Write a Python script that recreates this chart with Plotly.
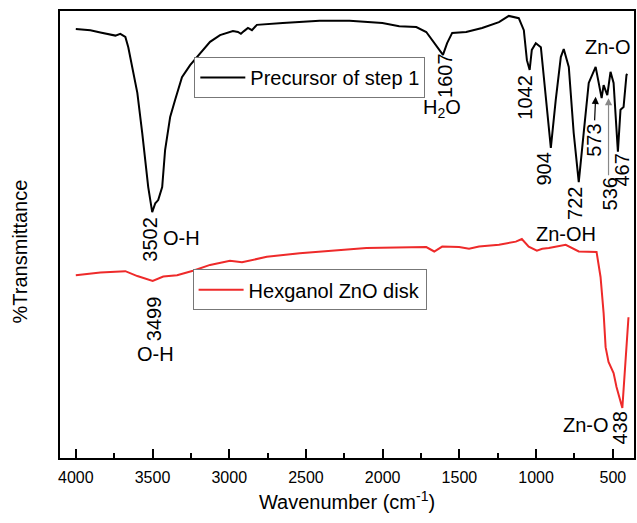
import plotly.graph_objects as go

# Precursor of step 1 (black)
wn_pre = [4000, 3905, 3840, 3742, 3710, 3677, 3658, 3632, 3599, 3567, 3547, 3528, 3502,
          3482, 3463, 3437, 3418, 3385, 3353, 3308, 3255, 3190, 3125, 3060, 2976, 2943,
          2924, 2904, 2878, 2852, 2820, 2651, 2411, 2216, 2002, 1892, 1781, 1716, 1677,
          1607, 1580, 1547, 1456, 1352, 1242, 1178, 1113, 1080, 1060, 1042, 1028, 1002,
          969, 937, 904, 872, 839, 820, 787, 755, 722, 690, 657, 612, 573, 560, 536, 515,
          495, 467, 450, 430, 411, 405]
t_pre = [96.0, 95.7, 95.2, 94.5, 94.9, 94.2, 91.9, 87.5, 81.7, 72.7, 66.7, 60.6, 55.0,
         57.0, 57.7, 60.6, 68.9, 76.3, 80.1, 85.2, 87.9, 90.6, 93.1, 94.6, 95.5, 95.3,
         94.9, 95.5, 96.2, 95.7, 96.9, 97.3, 97.8, 97.8, 97.3, 96.6, 96.4, 95.3, 93.5,
         90.2, 92.8, 95.1, 95.3, 96.2, 97.5, 98.9, 98.4, 95.7, 89.0, 86.8, 91.3, 92.8,
         91.9, 80.1, 69.4, 80.1, 89.7, 91.5, 87.5, 72.7, 61.7, 72.7, 83.9, 87.5, 80.5,
         83.4, 81.2, 86.4, 83.9, 68.5, 77.9, 78.5, 85.7, 85.9]

# Hexganol ZnO disk (red)
wn_hex = [4000, 3840, 3677, 3599, 3499, 3430, 3340, 3236, 3125, 2995, 2917, 2846, 2755,
          2541, 2411, 2106, 1716, 1664, 1612, 1502, 1437, 1372, 1242, 1132, 1093, 1048,
          995, 960, 917, 807, 722, 644, 606, 580, 560, 547, 528, 495, 476, 438, 418, 398]
t_hex = [40.9, 41.5, 41.8, 40.7, 39.6, 40.6, 40.9, 41.9, 43.2, 44.1, 43.8, 44.3, 45.0,
         45.8, 46.2, 47.0, 47.2, 46.2, 47.3, 47.2, 46.8, 47.3, 47.7, 48.4, 49.0, 47.3,
         46.4, 46.8, 47.0, 47.7, 46.2, 46.2, 46.1, 40.5, 32.4, 24.8, 21.5, 19.0, 15.9,
         11.2, 20.4, 31.5]

x_ticks = [4000, 3500, 3000, 2500, 2000, 1500, 1000, 500]
x_minor = [3750, 3250, 2750, 2250, 1750, 1250, 750]

# peak labels: (text, wavenumber, transmittance, angle)
labels = [
    ("3502", 3518, 49.0, -90), ("O-H", 3314, 49.2, 0),
    ("3499", 3489, 31.1, -90), ("O-H", 3482, 23.3, 0),
    ("1607", 1593, 85.5, -90), ("H<sub>2</sub>O", 1612, 78.1, 0),
    ("1042", 1073, 80.8, -90), ("904", 950, 64.7, -90),
    ("722", 742, 57.0, -90), ("573", 619, 71.1, -90),
    ("536", 521, 59.1, -90), ("467", 437, 64.4, -90),
    ("Zn-O", 534, 91.9, 0), ("Zn-OH", 807, 50.1, 0),
    ("Zn-O", 677, 7.4, 0), ("438", 450, 6.7, -90),
]
# arrows: (head wn, head T, tail wn, tail T, color)
arrows = [(612, 80.8, 619, 75.2, "black"), (528, 80.5, 528, 62.9, "#888888")]

FONT = "Arial, Liberation Sans, sans-serif"

fig = go.Figure()
fig.add_trace(go.Scatter(x=wn_pre, y=t_pre, mode="lines", name="Precursor of step 1",
                         line=dict(color="black", width=2), legend="legend", showlegend=True))
fig.add_trace(go.Scatter(x=wn_hex, y=t_hex, mode="lines", name="Hexganol ZnO disk",
                         line=dict(color="#ee2a2a", width=2), legend="legend2", showlegend=True))

for txt, x, y, ang in labels:
    fig.add_annotation(x=x, y=y, xref="x", yref="y", text=txt, showarrow=False,
                       textangle=ang, font=dict(size=20, color="black", family=FONT))
for hx, hy, tx, ty, col in arrows:
    fig.add_annotation(x=hx, y=hy, ax=tx, ay=ty, xref="x", yref="y", axref="x", ayref="y",
                       text="", showarrow=True, arrowhead=2, arrowsize=1.2, arrowwidth=1.2,
                       arrowcolor=col, standoff=0, startstandoff=0)

fig.add_annotation(x=-0.069, y=0.463, xref="paper", yref="paper", text="%Transmittance",
                   xanchor="center", yanchor="middle",
                   textangle=-90, showarrow=False, font=dict(size=20, color="black", family=FONT))

legend_common = dict(xanchor="left", yanchor="top", bgcolor="white", bordercolor="#777777",
                     borderwidth=1, font=dict(size=20, color="black", family=FONT),
                     itemwidth=45, tracegroupgap=0)

fig.update_layout(
    width=637, height=523,
    margin=dict(l=60, r=1, t=11, b=65),
    plot_bgcolor="white", paper_bgcolor="white",
    showlegend=True,
    font=dict(family=FONT, color="black"),
    legend=dict(x=0.234, y=0.897, **legend_common),
    legend2=dict(x=0.231, y=0.422, **legend_common),
    xaxis=dict(range=[4103, 362], tickvals=x_ticks, ticks="inside", ticklen=9, tickwidth=1.5,
               tickcolor="black", showline=True, linecolor="black", linewidth=1.5, mirror=True,
               showgrid=False, zeroline=False, tickfont=dict(size=16, family=FONT),
               ticklabelstandoff=4,
               minor=dict(tickvals=x_minor, ticks="inside",
                          ticklen=5, tickwidth=1.5, tickcolor="black"),
               title=dict(text="Wavenumber (cm<sup>-1</sup>)", font=dict(size=20, family=FONT),
                          standoff=10)),
    yaxis=dict(range=[0, 100], showticklabels=False, ticks="", showline=True, linecolor="black",
               linewidth=1.5, mirror=True, showgrid=False, zeroline=False),
)

fig.write_html("out.html")
